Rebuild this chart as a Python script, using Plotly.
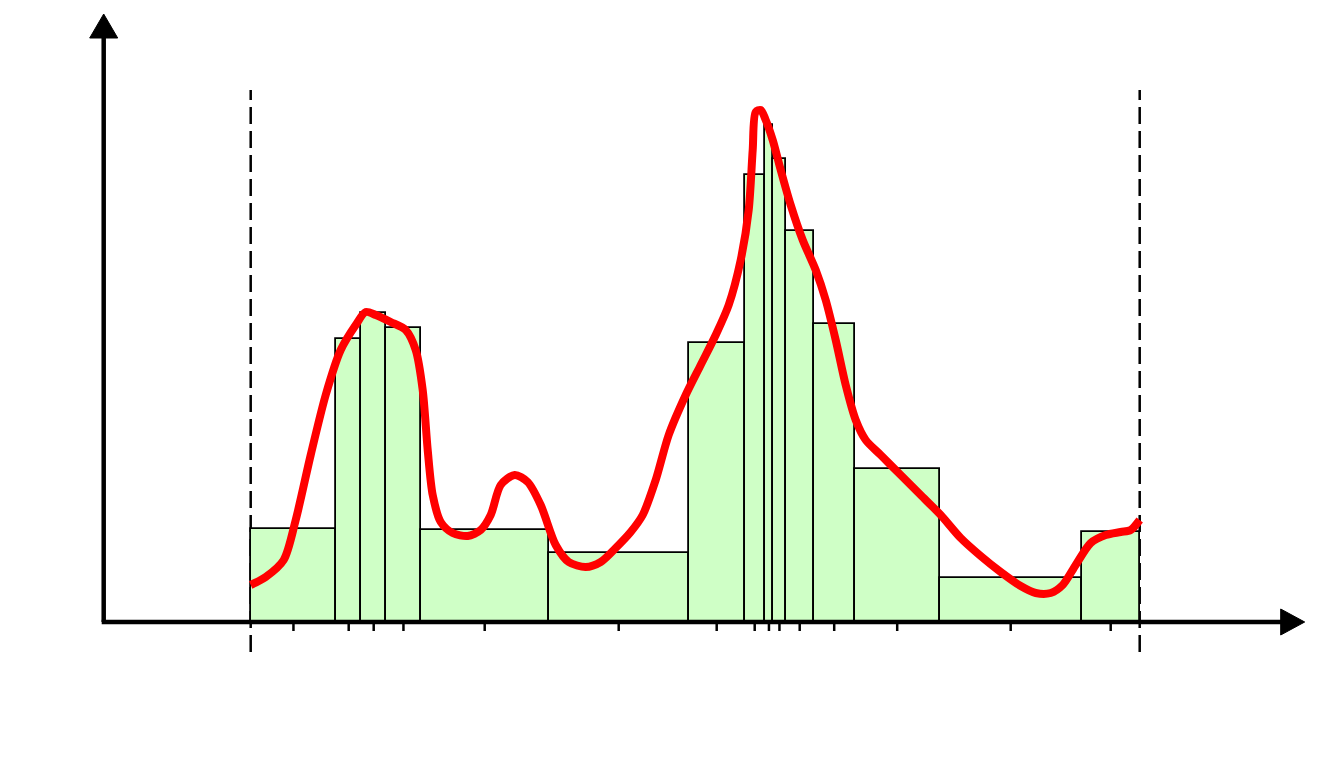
import plotly.graph_objects as go

# Bin edges (x units) and bar heights (y units)
bin_edges = [250, 335.5, 360.5, 385.5, 420, 548, 688, 744, 764, 772.5, 785, 813, 854, 939, 1081, 1139]
bar_heights = [93, 283, 309, 294, 92, 69, 279, 447, 497, 463, 391, 298, 153, 44, 90]

# Smooth density curve
curve_x = [250, 265, 283, 295, 310, 325, 340, 355, 365, 375, 390, 405, 415, 422, 427, 432, 440, 452, 467,
           480, 490, 500, 514, 527, 540, 555, 568, 585, 600, 615, 630, 642, 655, 668, 685, 700, 715, 728,
           740, 748, 752, 755, 760, 765, 772, 780, 790, 802, 815, 825, 835, 845, 855, 865, 880, 900, 920,
           940, 960, 980, 1000, 1020, 1035, 1050, 1062, 1075, 1090, 1105, 1120, 1130, 1139]
curve_y = [37, 45, 62, 102, 167, 227, 272, 297, 310, 307, 300, 292, 272, 232, 172, 127, 100, 89, 86,
           92, 107, 137, 147, 140, 117, 77, 60, 55, 60, 74, 90, 107, 142, 187, 227, 257, 287, 317,
           362, 412, 472, 510, 512, 502, 482, 452, 417, 382, 352, 322, 282, 237, 202, 182, 167, 147, 127,
           107, 84, 66, 50, 36, 29, 29, 37, 57, 79, 87, 90, 92, 102]

x_min, x_max = bin_edges[0], bin_edges[-1]
mids = [(a + b) / 2 for a, b in zip(bin_edges[:-1], bin_edges[1:])]
widths = [b - a for a, b in zip(bin_edges[:-1], bin_edges[1:])]

fig = go.Figure()
fig.add_trace(go.Bar(x=mids, y=bar_heights, width=widths, base=0,
                     marker=dict(color="#CFFFC6", line=dict(color="black", width=1.8)),
                     showlegend=False, hoverinfo="skip"))
fig.add_trace(go.Scatter(x=curve_x, y=curve_y, mode="lines",
                         line=dict(color="#FF0000", width=8, shape="spline", smoothing=0.8),
                         showlegend=False, hoverinfo="skip"))

shapes = []
# dashed bounds
for xv in (x_min, x_max):
    shapes.append(dict(type="line", x0=xv, x1=xv, y0=-30, y1=532, xref="x", yref="y",
                       line=dict(color="black", width=2.5, dash="17px,7px"), layer="below"))
# ticks at bin midpoints
for m in mids:
    shapes.append(dict(type="line", x0=m, x1=m, y0=0, y1=-9, xref="x", yref="y",
                       line=dict(color="black", width=2.5), layer="above"))
# axes
shapes.append(dict(type="line", x0=101, x1=1284, y0=0, y1=0, line=dict(color="black", width=4.5), layer="above"))
shapes.append(dict(type="line", x0=103, x1=103, y0=0, y1=588, line=dict(color="black", width=4.5), layer="above"))
# arrowheads
shapes.append(dict(type="path", path="M 1280 13 L 1304 0 L 1280 -13 Z", fillcolor="black",
                   line=dict(color="black", width=1), layer="above"))
shapes.append(dict(type="path", path="M 89 584 L 103 608 L 117 584 Z", fillcolor="black",
                   line=dict(color="black", width=1), layer="above"))

fig.update_layout(
    width=1333, height=771,
    margin=dict(l=0, r=0, t=0, b=0),
    paper_bgcolor="white", plot_bgcolor="white",
    xaxis=dict(range=[-0.7, 1332.3], visible=False),
    yaxis=dict(range=[-149, 622], visible=False),
    shapes=shapes,
    bargap=0,
)
fig.write_html("out.html")
